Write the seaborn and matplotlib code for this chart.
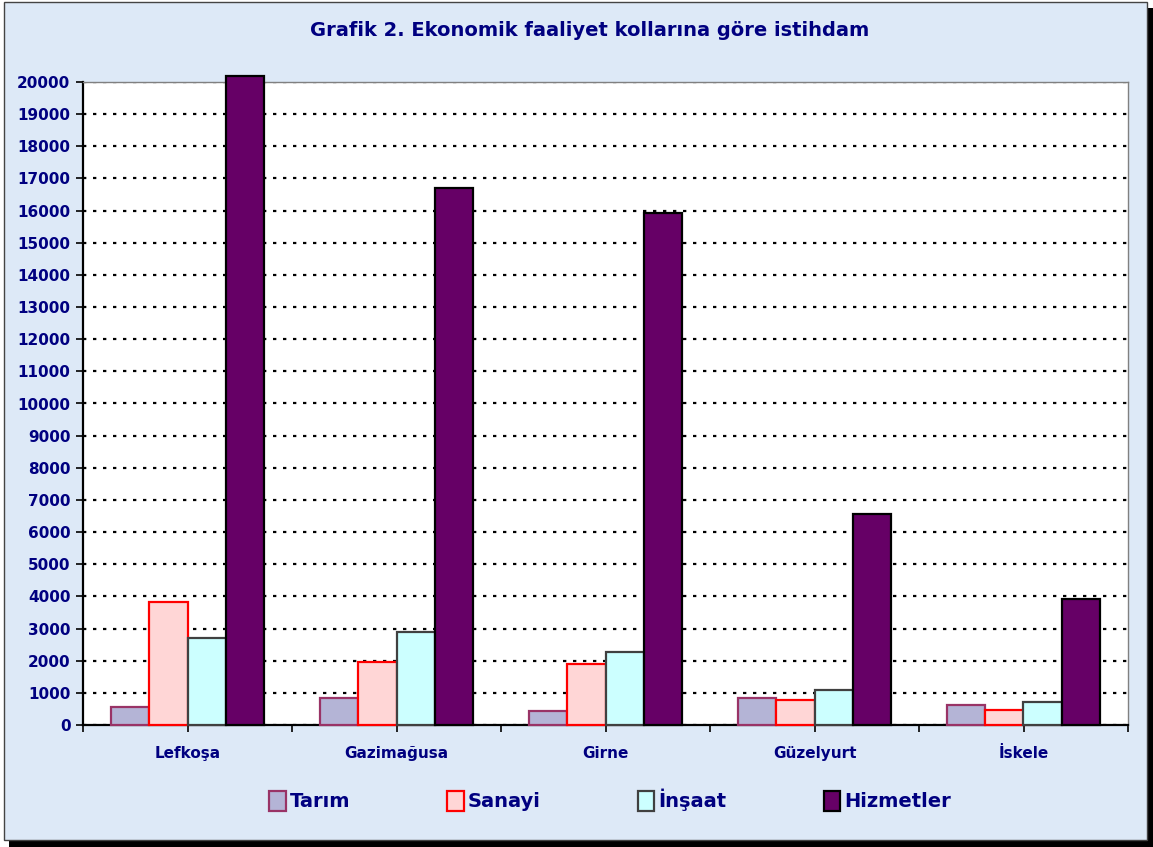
import pandas as pd
import matplotlib.pyplot as plt
import seaborn as sns
from matplotlib.patches import Rectangle, Patch
from matplotlib.ticker import MultipleLocator

# Data
regions = ['Lefkoşa', 'Gazimağusa', 'Girne', 'Güzelyurt', 'İskele']
sectors = ['Tarım', 'Sanayi', 'İnşaat', 'Hizmetler']
tarim = [560, 840, 435, 840, 610]
sanayi = [3840, 1970, 1910, 790, 475]
insaat = [2715, 2900, 2260, 1080, 725]
hizmetler = [20190, 16700, 15925, 6560, 3910]

face_colors = ['#b4b4d6', '#ffd6d6', '#ccffff', '#660066']
edge_colors = ['#993366', '#ff0000', '#404040', '#000000']
navy = '#000080'

rows = []
for sector, vals in zip(sectors, [tarim, sanayi, insaat, hizmetler]):
    for region, v in zip(regions, vals):
        rows.append({'Bölge': region, 'Sektör': sector, 'Kişi': v})
df = pd.DataFrame(rows)

sns.set_style('white')
plt.rcParams['font.family'] = ['DejaVu Sans']

W, H = 1153, 847
fig = plt.figure(figsize=(W / 100, H / 100), dpi=100, facecolor='white')

# frame with drop shadow (kept behind the axes)
fig.patches.append(Rectangle((9 / W, 0), 1144 / W, 839 / H, transform=fig.transFigure,
                             facecolor='black', edgecolor='none', zorder=-2))
fig.patches.append(Rectangle((4 / W, 7 / H), 1143 / W, 838 / H, transform=fig.transFigure,
                             facecolor='#dde9f7', edgecolor='#444444', linewidth=1, zorder=-1))

ax = fig.add_axes([83 / W, 122 / H, 1045 / W, 643 / H])
ax.set_facecolor('white')

sns.barplot(data=df, x='Bölge', y='Kişi', hue='Sektör', order=regions, hue_order=sectors,
            palette=face_colors, width=0.73, gap=0, legend=False, saturation=1, ax=ax)

for cont, ec in zip(ax.containers, edge_colors):
    for bar in cont:
        bar.set_edgecolor(ec)
        bar.set_linewidth(1.6)
        bar.set_clip_on(False)
        bar.set_zorder(3)

ax.set_xlim(-0.5, 4.5)
ax.set_ylim(0, 20000)
ax.yaxis.set_major_locator(MultipleLocator(1000))
ax.yaxis.grid(True, color='black', linestyle=(0, (1.5, 3)), linewidth=1.6)
ax.set_axisbelow(True)

ax.set_xlabel('')
ax.set_ylabel('')
ax.set_xticks(range(len(regions)))
ax.set_xticklabels(regions, fontsize=11, fontweight='bold', color=navy)
ax.xaxis.set_minor_locator(MultipleLocator(0.5))
ax.xaxis.remove_overlapping_locs = False
ax.tick_params(axis='x', which='major', length=0, pad=15)
ax.tick_params(axis='x', which='minor', length=5, width=1.2, color='black', direction='out', bottom=True)
ax.tick_params(axis='y', length=5, width=1.2, color='black', direction='out', left=True, pad=4)
for lab in ax.get_yticklabels():
    lab.set_fontsize(11)
    lab.set_fontweight('bold')
    lab.set_color(navy)

for side in ['left', 'bottom']:
    ax.spines[side].set_color('black')
    ax.spines[side].set_linewidth(1.6)
for side in ['top', 'right']:
    ax.spines[side].set_color('#808080')
    ax.spines[side].set_linewidth(1)

fig.text(590 / W, 1 - 30 / H, 'Grafik 2. Ekonomik faaliyet kollarına göre istihdam',
         ha='center', va='center', fontsize=14, fontweight='bold', color=navy)

handles = [Patch(facecolor=fc, edgecolor=ec, linewidth=1.6) for fc, ec in zip(face_colors, edge_colors)]
leg = fig.legend(handles, sectors, loc='center', bbox_to_anchor=(610 / W, 47 / H), ncol=4,
                 frameon=False, handlelength=0.85, handleheight=1.2, handletextpad=0.2,
                 columnspacing=5.0, prop={'size': 14, 'weight': 'bold'})
for t in leg.get_texts():
    t.set_color(navy)

fig.savefig('out.png', dpi=100)
